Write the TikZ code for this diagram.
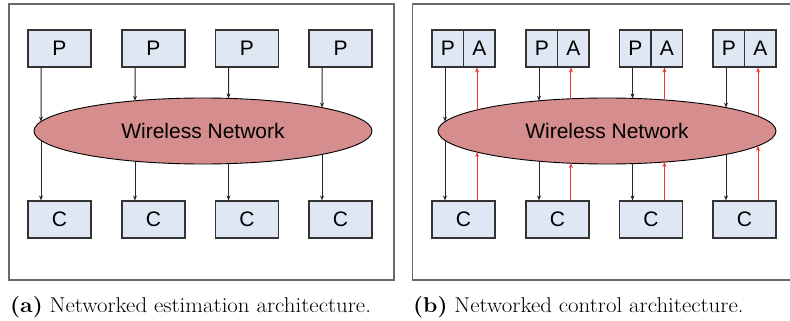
\documentclass[tikz,border=0pt]{standalone}
\usepackage{fontspec}
\newfontfamily\boxfont{Liberation Sans}
\usetikzlibrary{shapes.geometric,arrows.meta,intersections,calc}
\definecolor{boxfill}{RGB}{222,231,243}
\definecolor{netfill}{RGB}{214,141,141}
\definecolor{framecol}{RGB}{105,105,105}
\definecolor{redarr}{RGB}{240,50,50}
\begin{document}
\begin{tikzpicture}[x=1pt,y=-1pt,
  box/.style={draw=black!80, line width=1.1pt, fill=boxfill, minimum width=63pt, minimum height=37pt, inner sep=0pt, font=\boxfont\fontsize{21}{25}\selectfont},
  half/.style={box, minimum width=31.5pt},
  net/.style={ellipse, draw=black, line width=0.9pt, fill=netfill, minimum width=338pt, minimum height=66pt, inner sep=0pt, font=\boxfont\fontsize{21}{25}\selectfont},
  frame/.style={draw=framecol, line width=1.3pt},
  arr/.style={draw=black!85, line width=1pt, -{Stealth[length=5pt,width=4pt]}},
  rarr/.style={draw=redarr, line width=1pt, -{Stealth[length=5pt,width=4pt]}},
  captxt/.style={inner sep=0pt, font=\fontsize{21.4}{25}\selectfont}
]
\useasboundingbox (0,0) rectangle (790,321);
% panel frames
\draw[frame] (9,4) rectangle (394,280);
\draw[frame] (790,4) -- (412.7,4) -- (412.7,280) -- (790,280);

% ---------- panel (a) ----------
\foreach \x [count=\i] in {59.5,153.5,247,340.5} {
  \node[box] (pa\i) at (\x,48.5) {P};
  \node[box] (ca\i) at (\x,219.5) {C};
}
\node[net, name path=neta] (neta) at (203,131) {Wireless Network};
\foreach \i in {1,...,4} {
  \path[name path=va] ($(pa\i.south)+(-18.5,0)$) -- ++(0,160);
  \path[name intersections={of=neta and va, name=ia, sort by=va}];
  \draw[arr] ($(pa\i.south)+(-18.5,0)$) -- (ia-1);
  \draw[arr] (ia-2) -- (ia-2 |- ca\i.north);
}

% ---------- panel (b) ----------
\foreach \x [count=\i] in {463.5,557.5,651,744.5} {
  \node[half] (pb\i) at (\x-15.75,48.5) {P};
  \node[half] (ab\i) at (\x+15.75,48.5) {A};
  \node[box] (cb\i) at (\x,219.5) {C};
}
\node[net, name path=netb] (netb) at (607,131) {Wireless Network};
\foreach \i in {1,...,4} {
  \path[name path=vb] ($(cb\i.north)+(-18.5,0)$) -- ++(0,-170);
  \path[name intersections={of=netb and vb, name=ib, sort by=vb}];
  \draw[arr] (ib-2 |- pb\i.south) -- (ib-2);
  \draw[arr] (ib-1) -- (ib-1 |- cb\i.north);
  \path[name path=vr] ($(cb\i.north)+(13.5,0)$) -- ++(0,-170);
  \path[name intersections={of=netb and vr, name=ir, sort by=vr}];
  \draw[rarr] (ir-1 |- cb\i.north) -- (ir-1);
  \draw[rarr] (ir-2) -- (ir-2 |- ab\i.south);
}

% captions
\node[captxt, anchor=base west] (capa) at (10,312) {\scalebox{1.07}[1]{\textbf{(a)} Networked estimation architecture.}};
\node[captxt, anchor=base west] (capb) at (413,312) {\scalebox{1.07}[1]{\textbf{(b)} Networked control architecture.}};
\end{tikzpicture}
\end{document}
